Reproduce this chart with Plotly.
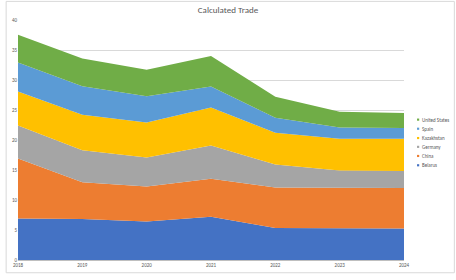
import plotly.graph_objects as go

years = ["2018", "2019", "2020", "2021", "2022", "2023", "2024"]
belarus = [6.9, 6.85, 6.4, 7.2, 5.35, 5.35, 5.25]
china = [10.0, 6.1, 5.85, 6.35, 6.75, 6.65, 6.75]
germany = [5.5, 5.35, 4.85, 5.55, 3.8, 2.9, 2.85]
kazakhstan = [5.7, 5.9, 5.8, 6.3, 5.3, 5.3, 5.35]
spain = [4.8, 4.75, 4.4, 3.5, 2.5, 1.9, 1.8]
united_states = [4.65, 4.65, 4.4, 5.1, 3.5, 2.6, 2.5]

series = [
    ("Belarus", belarus, "#4472C4"),
    ("China", china, "#ED7D31"),
    ("Germany", germany, "#A5A5A5"),
    ("Kazakhstan", kazakhstan, "#FFC000"),
    ("Spain", spain, "#5B9BD5"),
    ("United States", united_states, "#70AD47"),
]

W, H = 456, 280
L, R, T, B = 13, 52, 20, 15
PW, PH = W - L - R, H - T - B

fig = go.Figure()
for name, vals, col in series:
    fig.add_trace(go.Scatter(
        x=list(range(len(years))), y=vals, name=name, mode="lines", stackgroup="one",
        line=dict(width=0, color=col), fillcolor=col, hoverinfo="skip",
    ))

fig.update_layout(
    width=W, height=H,
    margin=dict(l=L, r=R, t=T, b=B),
    paper_bgcolor="white", plot_bgcolor="white",
    font=dict(family="Calibri, Carlito, Liberation Sans, sans-serif", color="#595959", size=5),
    title=dict(text="Calculated Trade", x=0.5, xanchor="center", y=1 - 9.5 / H, yanchor="middle",
               font=dict(size=9, color="#595959")),
    xaxis=dict(range=[0, 6], tickmode="array", tickvals=list(range(7)), ticktext=years,
               showgrid=False, showline=True, linecolor="#BFBFBF", linewidth=1,
               ticks="", tickfont=dict(size=5), zeroline=False),
    yaxis=dict(range=[0, 40], dtick=5, showgrid=True, gridcolor="#D9D9D9", gridwidth=1,
               showline=False, zeroline=False, tickfont=dict(size=5), ticks=""),
    showlegend=False,
)

# custom compact legend (top entry = last series)
leg_y = [121.7, 131.0, 140.5, 149.5, 158.8, 168.3]
for (name, vals, col), py in zip(reversed(series), leg_y):
    xp = (418.3 - L) / PW
    yp = (H - B - py) / PH
    dx = 1.1 / PW
    dy = 1.1 / PH
    fig.add_shape(type="rect", xref="paper", yref="paper", x0=xp - dx, x1=xp + dx,
                  y0=yp - dy, y1=yp + dy, fillcolor=col, line=dict(width=0))
    fig.add_annotation(xref="paper", yref="paper", x=(420.5 - L) / PW, y=yp, text=name,
                       showarrow=False, xanchor="left", yanchor="middle",
                       font=dict(size=5, color="#595959"))

fig.add_shape(type="rect", xref="paper", yref="paper", x0=(1 - L) / PW, x1=(455 - L) / PW,
              y0=(H - B - 278) / PH, y1=(H - B - 1) / PH, line=dict(color="#D9D9D9", width=1))

fig.write_html("out.html", config={"displayModeBar": False},
               post_script="document.body.style.margin='0';")
